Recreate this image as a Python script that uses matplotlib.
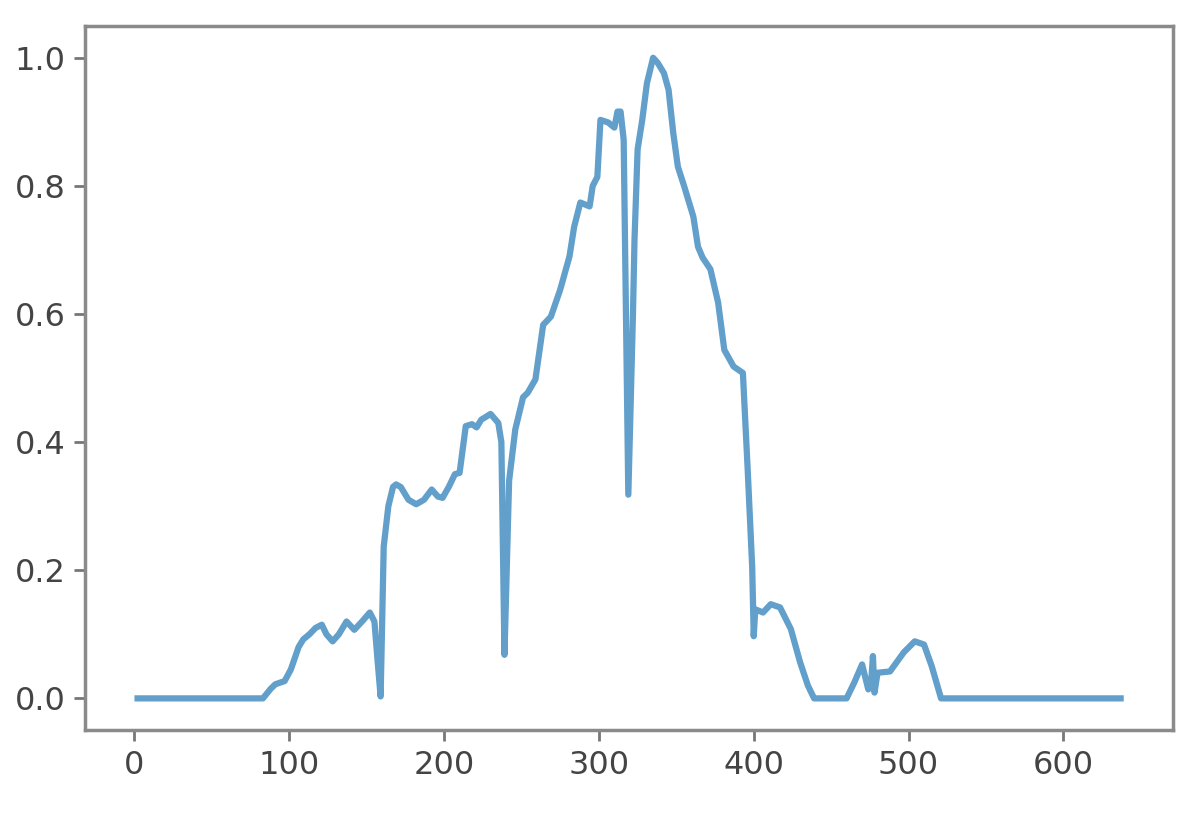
import numpy as np
from matplotlib import pyplot as plt

# values (sample index, normalised value)
idx = [0, 83, 88, 91, 97, 101, 106, 109, 113, 117, 121, 124, 128, 132, 137, 142,
       147, 152, 155, 157, 159, 161, 164, 167, 169, 172, 177, 182, 187, 192, 196,
       199, 203, 207, 210, 214, 218, 221, 224, 230, 235, 237, 239, 241, 242, 246,
       251, 254, 259, 264, 269, 275, 281, 284, 288, 294, 296, 299, 301, 306, 310,
       312, 314, 316, 319, 322, 323, 325, 328, 331, 335, 338, 342, 345, 348, 351,
       355, 361, 364, 367, 372, 377, 381, 387, 393, 396, 399, 400, 401, 406, 411,
       417, 424, 430, 435, 439, 460, 465, 470, 474, 476, 477, 478, 480, 488, 497,
       504, 510, 515, 521, 639]
val = [0.0, 0.0, 0.015, 0.022, 0.027, 0.045, 0.08, 0.092, 0.1, 0.11, 0.115, 0.1,
       0.089, 0.1, 0.12, 0.107, 0.12, 0.134, 0.12, 0.06, 0.003, 0.237, 0.30, 0.33,
       0.334, 0.33, 0.31, 0.303, 0.31, 0.326, 0.315, 0.313, 0.33, 0.35, 0.352,
       0.425, 0.428, 0.423, 0.435, 0.444, 0.43, 0.40, 0.068, 0.25, 0.34, 0.42,
       0.47, 0.477, 0.498, 0.583, 0.596, 0.638, 0.69, 0.736, 0.774, 0.768, 0.80,
       0.814, 0.903, 0.899, 0.891, 0.916, 0.916, 0.872, 0.318, 0.6, 0.716, 0.857,
       0.903, 0.96, 1.0, 0.992, 0.976, 0.95, 0.883, 0.83, 0.80, 0.752, 0.705,
       0.688, 0.67, 0.618, 0.544, 0.518, 0.508, 0.362, 0.206, 0.097, 0.139, 0.134,
       0.147, 0.142, 0.108, 0.056, 0.02, 0.0, 0.0, 0.025, 0.053, 0.014, 0.03,
       0.066, 0.009, 0.04, 0.042, 0.072, 0.089, 0.084, 0.05, 0.0, 0.0]

fig = plt.figure(figsize=(11.96, 8.30), dpi=100)
ax = fig.add_axes([0.071, 0.12, 0.91, 0.849])
ax.plot(idx, val, color='#1f77b4', lw=4.5, alpha=0.7,
        solid_joinstyle='round', solid_capstyle='butt')
ax.set_xlim(-32, 671)
ax.set_ylim(-0.05, 1.05)
ax.set_xticks(np.arange(0, 700, 100))
ax.set_yticks([0.0, 0.2, 0.4, 0.6, 0.8, 1.0])
ax.set_yticklabels(['0.0', '0.2', '0.4', '0.6', '0.8', '1.0'])

for s in ax.spines.values():
    s.set_color('#8a8a8a')
    s.set_linewidth(2.5)
ax.tick_params(labelsize=23, colors='#444444', length=8, width=2, pad=6)
ax.tick_params(color='#777777')

fig.savefig('out.png', dpi=100)
